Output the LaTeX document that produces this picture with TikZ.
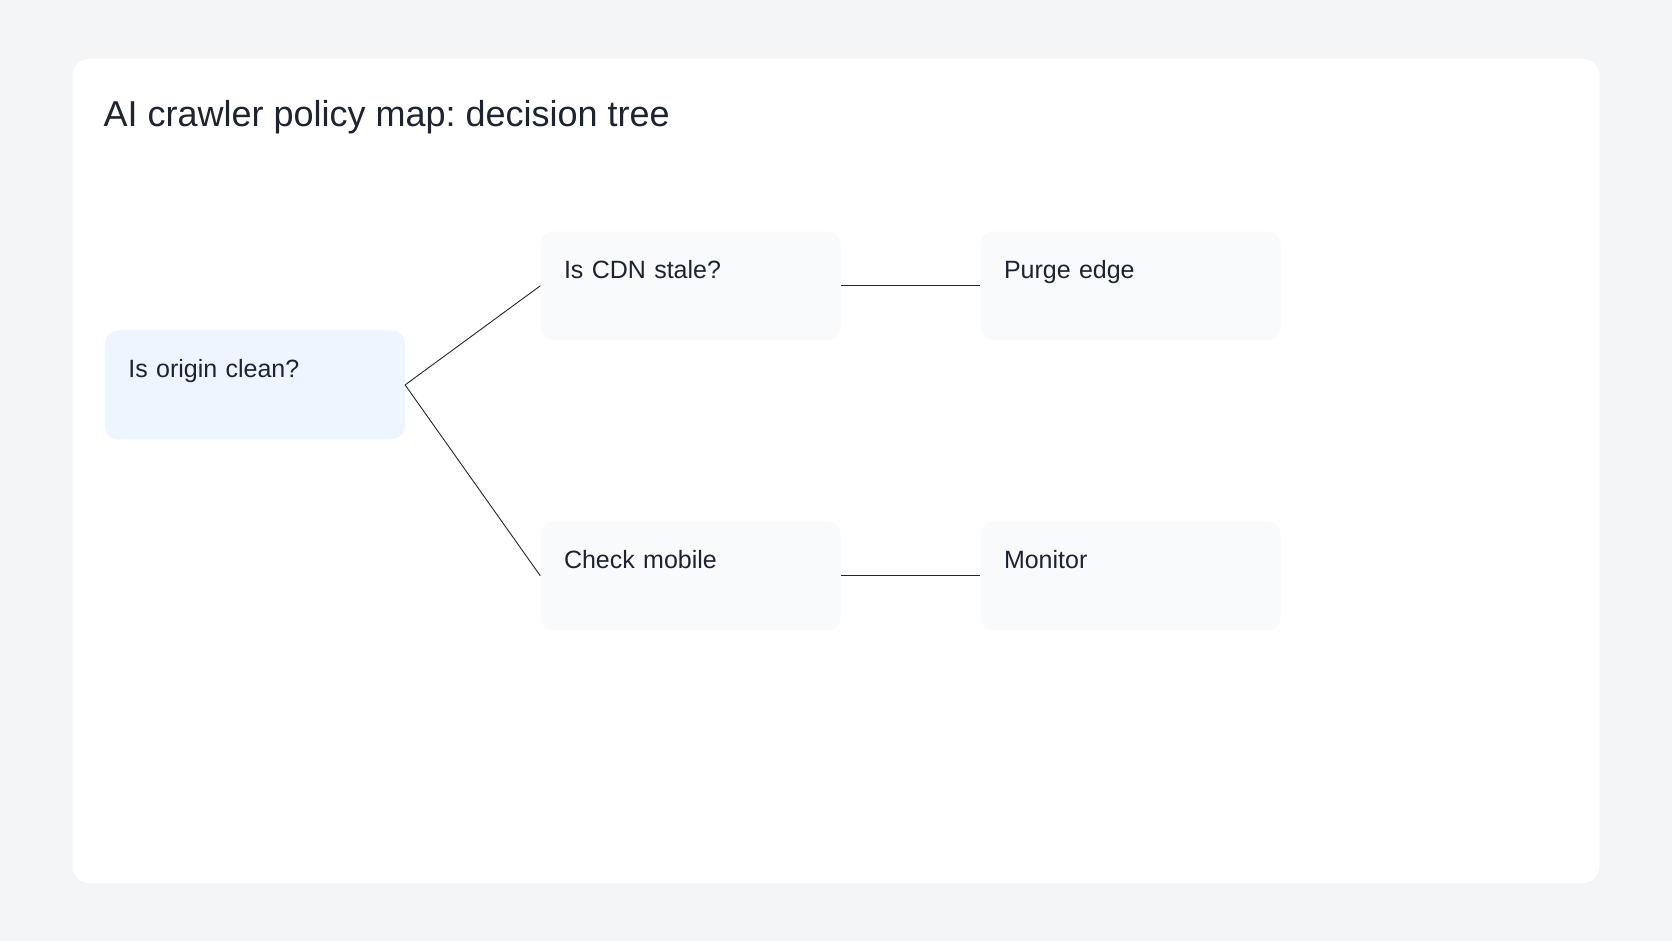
\documentclass[tikz,border=0pt]{standalone}
\usepackage{fontspec}
\setmainfont{Liberation Sans}
\usetikzlibrary{positioning}
\frenchspacing
\definecolor{pagebg}{HTML}{F3F5F7}
\definecolor{inkcol}{HTML}{1C2430}
\definecolor{rootfill}{HTML}{EEF5FF}
\definecolor{leaffill}{HTML}{F8FAFC}
\tikzset{
  treebox/.style={rectangle, rounded corners=13pt, draw=none, fill=leaffill,
    text width=253pt, align=left, inner xsep=23.5pt, inner ysep=20pt,
    text height=27pt, text depth=42pt, font=\fontsize{25}{30}\selectfont, text=inkcol},
  rootbox/.style={treebox, fill=rootfill},
  branch/.style={draw=black!85, line width=0.9pt}
}
\begin{document}
\begin{tikzpicture}[x=1pt,y=-1pt]
\fill[pagebg] (0,0) rectangle (1672,941);
\useasboundingbox (0,0) rectangle (1672,941);
\fill[white, rounded corners=17pt] (72.5,58.6) rectangle (1599.5,883);
\node[anchor=base west, inner sep=0pt, text=inkcol, font=\fontsize{36}{42}\selectfont] (title) at (103.4,127) {AI crawler policy map: decision tree};

\node[rootbox] (origin) at (254.9,384.9) {Is origin clean?};
\node[treebox] (cdn) at (690.5,285.8) {Is CDN stale?};
\node[treebox] (check) at (690.5,575.8) {Check mobile};
\node[treebox, right=139.6pt of cdn] (purge) {Purge edge};
\node[treebox, right=139.6pt of check] (monitor) {Monitor};

\draw[branch] (origin.east) -- (cdn.west);
\draw[branch] (origin.east) -- (check.west);
\draw[branch] (cdn.east) -- (purge.west);
\draw[branch] (check.east) -- (monitor.west);
\end{tikzpicture}
\end{document}
